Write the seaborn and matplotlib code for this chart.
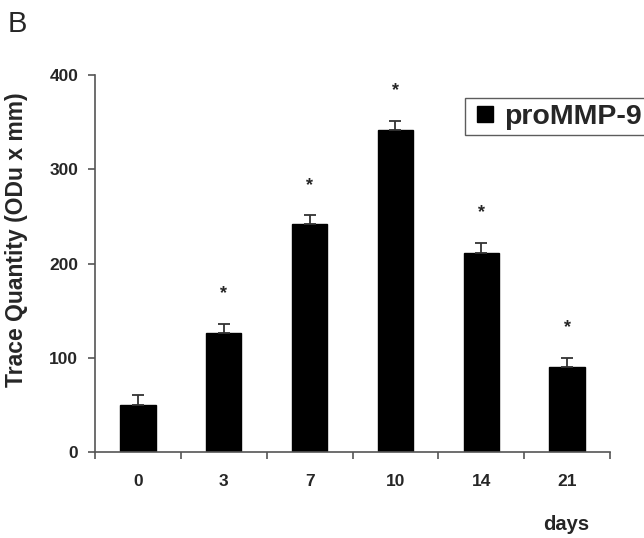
import numpy as np
import pandas as pd
import seaborn as sns
import matplotlib.pyplot as plt
from matplotlib.lines import Line2D

# values
days = ['0', '3', '7', '10', '14', '21']
trace = [50, 126, 242, 342, 211, 90]
sem = [10, 10, 9, 9, 11, 10]
significant = [False, True, True, True, True, True]
series_name = 'proMMP-9'

sns.set_style('ticks')
plt.rcParams['font.family'] = ['Liberation Sans', 'DejaVu Sans']
plt.rcParams['font.weight'] = 'bold'

df = pd.DataFrame({'days': days, 'trace': trace})

fig = plt.figure(figsize=(6.44, 5.38), dpi=100)
ax = fig.add_axes([95 / 644, 86 / 538, 515 / 644, 377 / 538])

sns.barplot(data=df, x='days', y='trace', order=days, color='black',
            saturation=1, width=0.41, edgecolor='black', ax=ax)

# upper-only error bars
xpos = np.arange(len(days))
ax.errorbar(xpos, trace, yerr=[np.zeros(len(sem)), sem], fmt='none',
            ecolor='#333333', elinewidth=1.3, capsize=4, capthick=1.3)

# significance stars
for x, v, e, s in zip(xpos, trace, sem, significant):
    if s:
        ax.text(x, v + e + 32, '*', ha='center', va='center', fontsize=13,
                fontweight='bold')

ax.set_xlim(-0.5, len(days) - 0.5)
ax.set_ylim(0, 400)
ax.set_yticks([0, 100, 200, 300, 400])
ax.set_xticks(xpos)
ax.set_xticks(np.arange(len(days) + 1) - 0.5, minor=True)
ax.tick_params(axis='x', which='major', length=0, pad=16, labelsize=12.5)
ax.tick_params(axis='x', which='minor', length=5, width=1.2, color='#555555')
ax.tick_params(axis='y', length=5, width=1.2, color='#555555', pad=7,
               labelsize=12.5)
for lab in ax.get_xticklabels() + ax.get_yticklabels():
    lab.set_fontweight('bold')

ax.set_xlabel('')
ax.set_ylabel('Trace Quantity (ODu x mm)', fontsize=16.5, fontweight='bold',
              va='center')
ax.yaxis.set_label_coords(-0.152, 0.562)

for side in ['top', 'right']:
    ax.spines[side].set_visible(False)
for side in ['left', 'bottom']:
    ax.spines[side].set_color('#555555')
    ax.spines[side].set_linewidth(1.2)

fig.text(566 / 644, 1 - 525 / 538, 'days', ha='center', va='center',
         fontsize=14.5, fontweight='bold')
fig.text(8 / 644, 1 - 32 / 538, 'B', ha='left', va='baseline',
         fontsize=21, fontweight='normal')

handle = Line2D([], [], marker='s', color='black', linestyle='none',
                markersize=12)
leg = ax.legend([handle], [series_name], loc='upper left',
                bbox_to_anchor=(465 / 644, 1 - 98 / 538),
                bbox_transform=fig.transFigure, borderaxespad=0,
                fancybox=False, frameon=True, edgecolor='#333333',
                prop={'size': 20.5, 'weight': 'bold'}, handlelength=1.0,
                handletextpad=0.16, borderpad=0.2)
leg.get_frame().set_linewidth(1.0)

fig.savefig('out.png', dpi=100)
